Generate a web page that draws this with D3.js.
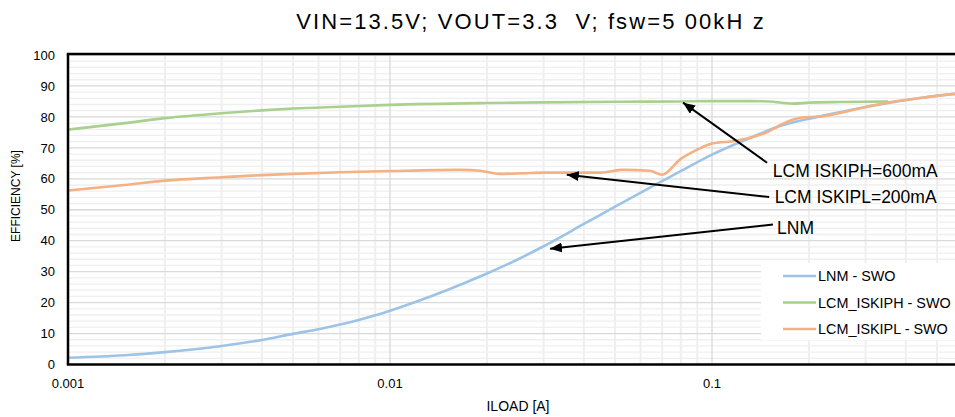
<!DOCTYPE html>
<html>
<head>
<meta charset="utf-8">
<script src="https://cdn.jsdelivr.net/npm/d3@7"></script>
<style>
    body { margin: 0; background: #fff; }
    text { font-family: "Liberation Sans", Arial, sans-serif; fill: #000; }
    .gridMinor { stroke: #efefef; }
    .gridMajor { stroke: #d9d9d9; stroke-width: 1.3; }
    .frame { stroke: #000; stroke-width: 2.5; }
    .series { fill: none; stroke-width: 2.6; stroke-linejoin: round; stroke-linecap: round; }
    .arrow { stroke: #000; stroke-width: 2; }
</style>
</head>
<body>
<script>

// LNM - SWO
var lnmLoad = [0.001, 0.0015, 0.002, 0.003, 0.004, 0.005, 0.006, 0.007, 0.008, 0.009, 0.01, 0.015, 0.02, 0.025, 0.03, 0.04, 0.05, 0.065, 0.08, 0.1, 0.13, 0.16, 0.2, 0.215, 0.3, 0.45, 0.6];
var lnmEff = [2.2, 3.0, 4.0, 6.0, 7.9, 9.9, 11.4, 12.9, 14.4, 15.9, 17.4, 24.0, 29.4, 34.0, 38.2, 45.4, 51.0, 57.5, 62.5, 67.8, 73.0, 76.8, 79.4, 80.1, 83.2, 86.2, 87.7];

// LCM_ISKIPH - SWO
var iskiphLoad = [0.001, 0.0015, 0.002, 0.003, 0.004, 0.005, 0.007, 0.01, 0.02, 0.03, 0.05, 0.08, 0.1, 0.13, 0.15, 0.178, 0.2, 0.25, 0.3, 0.35];
var iskiphEff = [75.9, 78.0, 79.6, 81.2, 82.1, 82.7, 83.3, 83.9, 84.5, 84.7, 84.9, 85.0, 85.1, 85.1, 85.0, 84.3, 84.6, 84.8, 84.9, 85.0];

// LCM_ISKIPL - SWO
var iskiplLoad = [0.001, 0.0015, 0.002, 0.003, 0.004, 0.005, 0.007, 0.01, 0.0165, 0.019, 0.022, 0.026, 0.03, 0.045, 0.053, 0.064, 0.07, 0.0795, 0.09, 0.1, 0.119, 0.147, 0.172, 0.19, 0.215, 0.3, 0.35, 0.45, 0.6];
var iskiplEff = [56.2, 58.0, 59.4, 60.5, 61.2, 61.6, 62.1, 62.5, 62.9, 62.6, 61.6, 61.8, 62.0, 62.0, 62.9, 62.6, 61.3, 66.2, 69.4, 71.4, 72.3, 74.9, 78.5, 79.8, 80.1, 83.2, 84.6, 86.2, 87.7];

var seriesNames = ["LNM - SWO", "LCM_ISKIPH - SWO", "LCM_ISKIPL - SWO"];
var seriesColors = ["#9dc3e6", "#a9d18e", "#f4b183"];

// tick labels
var xTickValues = [0.001, 0.01, 0.1];
var xTickLabels = ["0.001", "0.01", "0.1"];
var yTickValues = [0, 10, 20, 30, 40, 50, 60, 70, 80, 90, 100];

// annotation callouts: label, text anchor point and arrow from/to (load, efficiency)
var noteLabels = ["LCM ISKIPH=600mA", "LCM ISKIPL=200mA", "LNM"];
var noteTextLoad = [0.1545, 0.1565, 0.1593];
var noteTextEff = [60.5, 52.2, 42.1];
var arrowFromLoad = [0.1482, 0.1505, 0.1546];
var arrowFromEff = [65.2, 54.1, 45.2];
var arrowToLoad = [0.0813, 0.0354, 0.0314];
var arrowToEff = [84.6, 61.3, 37.4];

window.onload = drawChart();

function drawChart(){

    var width = 955,
        height = 417;

    var svg = d3.select("body")
        .append("svg")
        .attr("width", width)
        .attr("height", height);

    // plot frame runs off the right edge of the picture
    var left = 68, top = 54, bottom = 364.5;

    var x = d3.scaleLog()
        .domain([0.001, 1])
        .range([left, left + 3 * 322]);

    var y = d3.scaleLinear()
        .domain([0, 100])
        .range([bottom, 55]);

    // minor grid
    var minorX = [];
    [0.001, 0.01, 0.1].forEach(function(d){
        for (var k = 2; k <= 9; k++) minorX.push(d * k);
    });
    var minorY = d3.range(0, 100, 2).filter(function(d){ return d % 10 != 0; });

    svg.selectAll(".gridMinorY")
        .data(minorY)
        .enter()
        .append("line")
        .attr("class", "gridMinor")
        .attr("stroke-width", 1.3)
        .attr("x1", left).attr("x2", width)
        .attr("y1", function(d){ return y(d); })
        .attr("y2", function(d){ return y(d); });

    svg.selectAll(".gridMinorX")
        .data(minorX)
        .enter()
        .append("line")
        .attr("class", "gridMinor")
        .attr("stroke-width", 2)
        .attr("x1", function(d){ return x(d); })
        .attr("x2", function(d){ return x(d); })
        .attr("y1", top).attr("y2", bottom);

    // major grid
    svg.selectAll(".gridMajorY")
        .data(yTickValues)
        .enter()
        .append("line")
        .attr("class", "gridMajor")
        .attr("x1", left).attr("x2", width)
        .attr("y1", function(d){ return y(d); })
        .attr("y2", function(d){ return y(d); });

    svg.selectAll(".gridMajorX")
        .data(xTickValues)
        .enter()
        .append("line")
        .attr("class", "gridMajor")
        .attr("x1", function(d){ return x(d); })
        .attr("x2", function(d){ return x(d); })
        .attr("y1", top).attr("y2", bottom);

    // series lines
    var line = d3.line()
        .x(function(d){ return x(d[0]); })
        .y(function(d){ return y(d[1]); })
        .curve(d3.curveMonotoneX);

    var seriesData = [
        d3.zip(lnmLoad, lnmEff),
        d3.zip(iskiphLoad, iskiphEff),
        d3.zip(iskiplLoad, iskiplEff)
    ];

    svg.selectAll(".series")
        .data(seriesData)
        .enter()
        .append("path")
        .attr("class", "series")
        .attr("stroke", function(d, i){ return seriesColors[i]; })
        .attr("d", line);

    // frame
    svg.append("line").attr("class", "frame")
        .attr("x1", left).attr("x2", left).attr("y1", top).attr("y2", bottom);
    svg.append("line").attr("class", "frame")
        .attr("x1", left - 1.2).attr("x2", width).attr("y1", top).attr("y2", top);
    svg.append("line").attr("class", "frame")
        .attr("x1", left - 1.2).attr("x2", width).attr("y1", bottom).attr("y2", bottom);

    // tick labels
    svg.selectAll(".yLabel")
        .data(yTickValues)
        .enter()
        .append("text")
        .attr("x", 55)
        .attr("y", function(d){ return y(d); })
        .attr("dy", "0.36em")
        .attr("text-anchor", "end")
        .style("font-size", "13px")
        .text(function(d){ return d; });

    svg.selectAll(".xLabel")
        .data(xTickValues)
        .enter()
        .append("text")
        .attr("x", function(d){ return x(d); })
        .attr("y", 388)
        .attr("text-anchor", "middle")
        .style("font-size", "13px")
        .text(function(d, i){ return xTickLabels[i]; });

    // axis titles
    svg.append("text")
        .attr("x", 518)
        .attr("y", 411)
        .attr("text-anchor", "middle")
        .style("font-size", "14px")
        .text("ILOAD [A]");

    svg.append("text")
        .attr("transform", "translate(20,196) rotate(-90)")
        .attr("text-anchor", "middle")
        .style("font-size", "12px")
        .text("EFFICIENCY [%]");

    // chart title
    svg.append("text")
        .attr("x", 531)
        .attr("y", 29)
        .attr("text-anchor", "middle")
        .style("font-size", "22px")
        .style("letter-spacing", "2.1px")
        .style("white-space", "pre")
        .text("VIN=13.5V; VOUT=3.3  V; fsw=5 00kH z");

    // legend
    svg.append("rect")
        .attr("x", 761)
        .attr("y", 263)
        .attr("width", width - 761)
        .attr("height", 77)
        .attr("fill", "#fff");

    var legend = svg.selectAll(".legend")
        .data(seriesNames)
        .enter()
        .append("g")
        .attr("transform", function(d, i){ return "translate(783," + (276 + i * 26.5) + ")"; });

    legend.append("line")
        .attr("x1", 0).attr("x2", 33)
        .attr("stroke", function(d, i){ return seriesColors[i]; })
        .attr("stroke-width", 2.6);

    legend.append("text")
        .attr("x", 35)
        .attr("dy", "0.36em")
        .style("font-size", "14.4px")
        .text(function(d){ return d; });

    // annotation arrows
    svg.append("defs").append("marker")
        .attr("id", "head")
        .attr("markerUnits", "userSpaceOnUse")
        .attr("markerWidth", 13)
        .attr("markerHeight", 10)
        .attr("refX", 12)
        .attr("refY", 5)
        .attr("orient", "auto")
        .append("path")
        .attr("d", "M0,0L12,5L0,10Z")
        .attr("fill", "#000");

    svg.selectAll(".arrow")
        .data(noteLabels)
        .enter()
        .append("line")
        .attr("class", "arrow")
        .attr("x1", function(d, i){ return x(arrowFromLoad[i]); })
        .attr("y1", function(d, i){ return y(arrowFromEff[i]); })
        .attr("x2", function(d, i){ return x(arrowToLoad[i]); })
        .attr("y2", function(d, i){ return y(arrowToEff[i]); })
        .attr("marker-end", "url(#head)");

    svg.selectAll(".note")
        .data(noteLabels)
        .enter()
        .append("text")
        .attr("x", function(d, i){ return x(noteTextLoad[i]); })
        .attr("y", function(d, i){ return y(noteTextEff[i]); })
        .style("font-size", "17.5px")
        .text(function(d){ return d; });
};

</script>
</body>
</html>
